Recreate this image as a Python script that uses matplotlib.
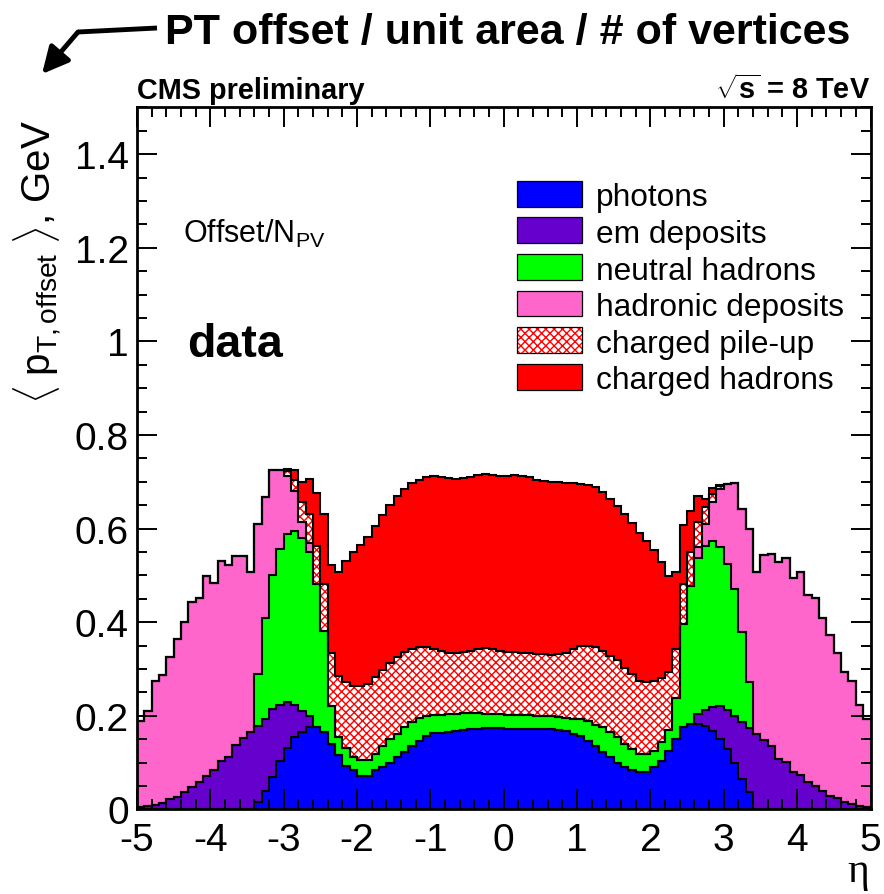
import numpy as np
import matplotlib
matplotlib.use("Agg")
import matplotlib.pyplot as plt
from matplotlib.patches import Rectangle, FancyArrowPatch
from matplotlib.lines import Line2D
from matplotlib.ticker import MultipleLocator, FuncFormatter

# ---- data: offset pT per unit area per vertex, 100 eta bins of width 0.1 ----
eta_lo, eta_hi, n_bins = -5.0, 5.0, 100

photons = [
    0, 0, 0, 0, 0, 0, 0, 0, 0, 0,
    0, 0, 0, 0, 0, 0, 0.015, 0.040, 0.070, 0.104,
    0.130, 0.154, 0.166, 0.175, 0.175, 0.166, 0.140, 0.115, 0.093, 0.083,
    0.072, 0.072, 0.083, 0.090, 0.100, 0.111, 0.123, 0.136, 0.147, 0.157,
    0.162, 0.164, 0.166, 0.167, 0.170, 0.172, 0.172, 0.173, 0.173, 0.173,
    0.172, 0.172, 0.172, 0.172, 0.172, 0.172, 0.171, 0.170, 0.168, 0.161,
    0.156, 0.147, 0.136, 0.123, 0.111, 0.100, 0.090, 0.083, 0.079, 0.079,
    0.090, 0.104, 0.125, 0.150, 0.175, 0.182, 0.182, 0.179, 0.168, 0.150,
    0.129, 0.100, 0.065, 0.036, 0, 0, 0, 0, 0, 0,
    0, 0, 0, 0, 0, 0, 0, 0, 0, 0,
]
em_deposits = [
    0.004, 0.006, 0.010, 0.013, 0.022, 0.026, 0.038, 0.048, 0.058, 0.072,
    0.083, 0.104, 0.111, 0.137, 0.152, 0.166, 0.164, 0.153, 0.144, 0.118,
    0.099, 0.068, 0.043, 0.025, 0, 0, 0, 0, 0, 0,
    0, 0, 0, 0, 0, 0, 0, 0, 0, 0,
    0, 0, 0, 0, 0, 0, 0, 0, 0, 0,
    0, 0, 0, 0, 0, 0, 0, 0, 0, 0,
    0, 0, 0, 0, 0, 0, 0, 0, 0, 0,
    0, 0, 0, 0, 0, 0, 0.022, 0.034, 0.050, 0.070,
    0.084, 0.100, 0.121, 0.137, 0.161, 0.149, 0.135, 0.107, 0.102, 0.080,
    0.073, 0.059, 0.049, 0.040, 0.028, 0.024, 0.015, 0.011, 0.006, 0.004,
]
neutral_hadrons = [
    0, 0, 0, 0, 0, 0, 0, 0, 0, 0,
    0, 0, 0, 0, 0, 0, 0.110, 0.215, 0.287, 0.334,
    0.359, 0.373, 0.371, 0.349, 0.306, 0.216, 0.081, 0.039, 0.039, 0.028,
    0.034, 0.034, 0.035, 0.046, 0.050, 0.050, 0.052, 0.050, 0.048, 0.043,
    0.039, 0.038, 0.037, 0.037, 0.035, 0.033, 0.033, 0.031, 0.030, 0.030,
    0.030, 0.030, 0.029, 0.029, 0.028, 0.027, 0.028, 0.028, 0.028, 0.033,
    0.036, 0.042, 0.044, 0.052, 0.054, 0.054, 0.050, 0.045, 0.039, 0.039,
    0.035, 0.039, 0.045, 0.087, 0.220, 0.296, 0.334, 0.350, 0.356, 0.340,
    0.311, 0.271, 0.192, 0.098, 0, 0, 0, 0, 0, 0,
    0, 0, 0, 0, 0, 0, 0, 0, 0, 0,
]
hadronic_deposits = [
    0.185, 0.204, 0.265, 0.275, 0.304, 0.338, 0.363, 0.396, 0.393, 0.427,
    0.400, 0.427, 0.412, 0.405, 0.390, 0.340, 0.321, 0.259, 0.223, 0.169,
    0.125, 0.085, 0.033, 0.021, 0, 0, 0, 0, 0, 0,
    0, 0, 0, 0, 0, 0, 0, 0, 0, 0,
    0, 0, 0, 0, 0, 0, 0, 0, 0, 0,
    0, 0, 0, 0, 0, 0, 0, 0, 0, 0,
    0, 0, 0, 0, 0, 0, 0, 0, 0, 0,
    0, 0, 0, 0, 0, 0, 0.022, 0.047, 0.082, 0.125,
    0.171, 0.226, 0.264, 0.327, 0.347, 0.394, 0.411, 0.422, 0.436, 0.414,
    0.435, 0.399, 0.402, 0.368, 0.345, 0.310, 0.278, 0.264, 0.216, 0.189,
]
charged_pileup = [
    0, 0, 0, 0, 0, 0, 0, 0, 0, 0,
    0, 0, 0, 0, 0, 0, 0, 0, 0, 0,
    0.009, 0.024, 0.044, 0.061, 0.082, 0.099, 0.114, 0.130, 0.139, 0.152,
    0.157, 0.162, 0.164, 0.162, 0.163, 0.164, 0.162, 0.157, 0.151, 0.146,
    0.142, 0.137, 0.132, 0.131, 0.132, 0.134, 0.138, 0.140, 0.140, 0.136,
    0.135, 0.135, 0.134, 0.133, 0.132, 0.133, 0.131, 0.134, 0.139, 0.149,
    0.156, 0.159, 0.166, 0.164, 0.163, 0.164, 0.161, 0.161, 0.157, 0.155,
    0.150, 0.137, 0.123, 0.106, 0.086, 0.071, 0.053, 0.035, 0.017, 0.005,
    0, 0, 0, 0, 0, 0, 0, 0, 0, 0,
    0, 0, 0, 0, 0, 0, 0, 0, 0, 0,
]
charged_hadrons = [
    0, 0, 0, 0, 0, 0, 0, 0, 0, 0,
    0, 0, 0, 0, 0, 0, 0, 0, 0, 0,
    0.006, 0.020, 0.043, 0.075, 0.112, 0.150, 0.186, 0.224, 0.260, 0.286,
    0.302, 0.313, 0.324, 0.331, 0.337, 0.344, 0.348, 0.354, 0.358, 0.363,
    0.369, 0.370, 0.372, 0.371, 0.370, 0.370, 0.371, 0.372, 0.371, 0.374,
    0.376, 0.377, 0.378, 0.375, 0.372, 0.369, 0.370, 0.367, 0.362, 0.354,
    0.347, 0.345, 0.342, 0.338, 0.335, 0.331, 0.330, 0.323, 0.315, 0.300,
    0.278, 0.249, 0.206, 0.165, 0.127, 0.089, 0.057, 0.018, 0.013, 0.003,
    0, 0, 0, 0, 0, 0, 0, 0, 0, 0,
    0, 0, 0, 0, 0, 0, 0, 0, 0, 0,
]

legend_labels = ["photons", "em deposits", "neutral hadrons",
                 "hadronic deposits", "charged pile-up", "charged hadrons"]
x_ticks = [-5, -4, -3, -2, -1, 0, 1, 2, 3, 4, 5]
y_ticks = [0, 0.2, 0.4, 0.6, 0.8, 1.0, 1.2, 1.4]

# ---- styling ----
fill_colors = ["#0000ff", "#6600cc", "#00ff00", "#ff66cc", None, "#ff0000"]
pileup_hatch = "xxxx"

plt.rcParams["font.family"] = ["Liberation Sans", "DejaVu Sans"]
plt.rcParams["mathtext.fontset"] = "custom"
plt.rcParams["mathtext.rm"] = "Liberation Sans"
plt.rcParams["mathtext.it"] = "Liberation Sans:italic"
plt.rcParams["mathtext.bf"] = "Liberation Sans:bold"
plt.rcParams["axes.unicode_minus"] = False
plt.rcParams["hatch.linewidth"] = 1.0

W, H = 884, 895
fig = plt.figure(figsize=(W / 100, H / 100), dpi=100)
ax_left, ax_right, ax_top, ax_bot = 137, 870.5, 108.3, 810.3
ax = fig.add_axes([ax_left / W, 1 - ax_bot / H,
                   (ax_right - ax_left) / W, (ax_bot - ax_top) / H])

edges = np.linspace(eta_lo, eta_hi, n_bins + 1)
layers = np.array([photons, em_deposits, neutral_hadrons,
                   hadronic_deposits, charged_pileup, charged_hadrons])
cumulative = np.cumsum(layers, axis=0)

lower = np.zeros(n_bins)
for top, col in zip(cumulative, fill_colors):
    if col is None:
        ax.stairs(top, edges, baseline=lower, fill=True, facecolor="white",
                  edgecolor="red", hatch=pileup_hatch, linewidth=0)
    else:
        ax.stairs(top, edges, baseline=lower, fill=True, facecolor=col,
                  edgecolor="none", linewidth=0)
    lower = top

for top in cumulative:
    ax.stairs(top, edges, baseline=None, color="black", linewidth=1.5)

ax.set_xlim(eta_lo, eta_hi)
ax.set_ylim(0, 1.5)
ax.set_xticks(x_ticks)
ax.set_yticks(y_ticks)
ax.xaxis.set_minor_locator(MultipleLocator(0.2))
ax.yaxis.set_minor_locator(MultipleLocator(0.05))
ax.xaxis.set_major_formatter(FuncFormatter(lambda v, p: "%g" % v))
ax.yaxis.set_major_formatter(FuncFormatter(lambda v, p: "%g" % v))
ax.tick_params(which="both", direction="in", top=True, right=True,
               width=1.4, labelsize=28)
ax.tick_params(which="major", length=14.5)
ax.tick_params(which="minor", length=7.2)
ax.tick_params(axis="x", pad=9)
ax.tick_params(axis="y", pad=6)
for sp in ax.spines.values():
    sp.set_linewidth(2.0)

ax.set_ylabel(r"$\langle\;\mathrm{p}_{\mathrm{T,offset}}\;\rangle$, GeV",
              fontsize=29, loc="top")
ax.yaxis.set_label_coords(-0.099, 0.983)
ax.text(0.983, -0.088, "η", transform=ax.transAxes, ha="center",
        va="center", fontsize=30, family=["Liberation Serif", "DejaVu Serif"])

# ---- legend ----
def fx(px):
    return (px - ax_left) / (ax_right - ax_left)

def fy(py):
    return (ax_bot - py) / (ax_bot - ax_top)

row_y = [194.8, 231.0, 268.0, 304.5, 341.0, 378.0]
box_x0, box_x1, box_hpx = 517.3, 581.7, 25.7
for label, col, yc in zip(legend_labels, fill_colors, row_y):
    box_h = box_hpx / (ax_bot - ax_top)
    corner = (fx(box_x0), fy(yc) - box_h / 2)
    box_w = fx(box_x1) - fx(box_x0)
    if col is None:
        ax.add_patch(Rectangle(corner, box_w, box_h, transform=ax.transAxes,
                               facecolor="white", edgecolor="red",
                               hatch=pileup_hatch, linewidth=0))
        ax.add_patch(Rectangle(corner, box_w, box_h, transform=ax.transAxes,
                               facecolor="none", edgecolor="black",
                               linewidth=0.9))
    else:
        ax.add_patch(Rectangle(corner, box_w, box_h, transform=ax.transAxes,
                               facecolor=col, edgecolor="black", linewidth=0.9))
    ax.text(fx(596.0), fy(yc), label, transform=ax.transAxes, ha="left",
            va="center_baseline", fontsize=22.8)

ax.text(fx(183), fy(243), r"Offset/N$_{\mathrm{PV}}$", transform=ax.transAxes,
        ha="left", va="baseline", fontsize=22)
ax.text(fx(187), fy(357), "data", transform=ax.transAxes, ha="left",
        va="baseline", fontsize=33.5, fontweight="bold")

# ---- header ----
ax.text(0.0, fy(99), "CMS preliminary", transform=ax.transAxes, ha="left",
        va="baseline", fontsize=20.8, fontweight="bold")
ax.text(1.0, fy(99), r"$\mathbf{\sqrt{s}}$ = 8 TeV", transform=ax.transAxes,
        ha="right", va="baseline", fontsize=20.8, fontweight="bold")

fig.text(165 / W, 1 - 44 / H, "PT offset / unit area / # of vertices",
         ha="left", va="baseline", fontsize=31, fontweight="bold")

# arrow pointing from the header towards the axis title
fig.add_artist(Line2D([157 / W, 78 / W], [1 - 29 / H, 1 - 33 / H],
                      transform=fig.transFigure, color="black", linewidth=3.5,
                      solid_capstyle="butt"))
fig.add_artist(FancyArrowPatch((78 / W, 1 - 33 / H), (42 / W, 1 - 75 / H),
                               transform=fig.transFigure,
                               arrowstyle="-|>,head_length=16,head_width=8",
                               color="black", linewidth=3.5,
                               mutation_scale=1, shrinkA=0, shrinkB=0))

fig.savefig("out.png", dpi=100)
